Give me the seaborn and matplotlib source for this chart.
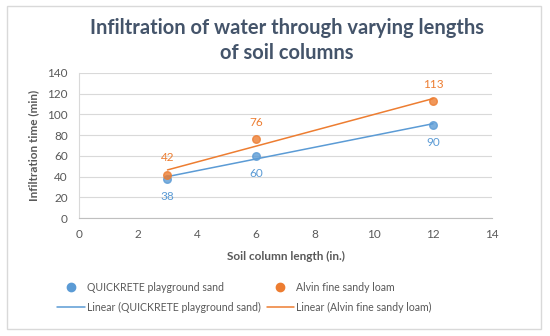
import matplotlib.pyplot as plt
import pandas as pd
import seaborn as sns
from matplotlib.lines import Line2D
from matplotlib.patches import Rectangle

# values
lengths = [3, 6, 12]
sand_times = [38, 60, 90]
loam_times = [42, 76, 113]
sand_name = 'QUICKRETE playground sand'
loam_name = 'Alvin fine sandy loam'
x_ticks = [0, 2, 4, 6, 8, 10, 12, 14]
y_ticks = [0, 20, 40, 60, 80, 100, 120, 140]

BLUE = '#5B9BD5'
ORANGE = '#ED7D31'
GREY = '#595959'

df = pd.DataFrame({'length': lengths, 'sand': sand_times, 'loam': loam_times})

sns.set_style('white')
plt.rcParams['font.family'] = ['Lato', 'DejaVu Sans']

fig = plt.figure(figsize=(5.5, 3.36), dpi=100)
ax = fig.add_axes([0.1436, 0.351, 0.751, 0.432])

# chart border
fig.patches.append(Rectangle((7 / 550, 1 - 329 / 336), 534 / 550, 323 / 336,
                             transform=fig.transFigure, fill=False,
                             edgecolor='#D9D9D9', linewidth=1))

for col, color, name, off in [('sand', BLUE, sand_name, -13), ('loam', ORANGE, loam_name, 12)]:
    sns.regplot(data=df, x='length', y=col, ax=ax, ci=None, color=color,
                scatter_kws={'s': 30, 'zorder': 3}, line_kws={'linewidth': 1.1})
    for x, y in zip(df['length'], df[col]):
        ax.annotate(str(y), (x, y), xytext=(0, off), textcoords='offset points',
                    ha='center', va='center', color=color, fontsize=8.5)

ax.set_xlim(0, 14)
ax.set_ylim(0, 140)
ax.set_xticks(x_ticks)
ax.set_yticks(y_ticks)
ax.grid(axis='y', color='#D9D9D9', linewidth=0.8)
ax.set_axisbelow(True)
for s in ['top', 'right']:
    ax.spines[s].set_visible(False)
ax.spines['left'].set_color('#D9D9D9')
ax.spines['bottom'].set_color('#BFBFBF')
ax.tick_params(axis='both', length=0, labelsize=8.5, labelcolor=GREY, pad=8)

ax.set_xlabel('Soil column length (in.)', fontsize=8.5, fontweight='bold', color=GREY, labelpad=8)
ax.set_ylabel('Infiltration time (min)', fontsize=8.5, fontweight='bold', color=GREY, labelpad=6)

fig.text(0.522, 0.88, 'Infiltration of water through varying lengths\nof soil columns',
         ha='center', va='center', fontsize=14.5, fontweight='bold', color='#44546A',
         linespacing=1.35)

handles = [
    Line2D([], [], marker='o', linestyle='none', color=BLUE, markersize=6),
    Line2D([], [], color=BLUE, linewidth=1.1),
    Line2D([], [], marker='o', linestyle='none', color=ORANGE, markersize=6),
    Line2D([], [], color=ORANGE, linewidth=1.1),
]
labels = [sand_name, f'Linear ({sand_name})', loam_name, f'Linear ({loam_name})']
fig.legend(handles, labels, ncol=2, loc='upper left', bbox_to_anchor=(0.087, 0.19),
           frameon=False, fontsize=7.6, labelcolor=GREY, handlelength=2.6,
           handletextpad=0.2, columnspacing=0.55, labelspacing=0.85)

fig.savefig('out.png', dpi=100)
